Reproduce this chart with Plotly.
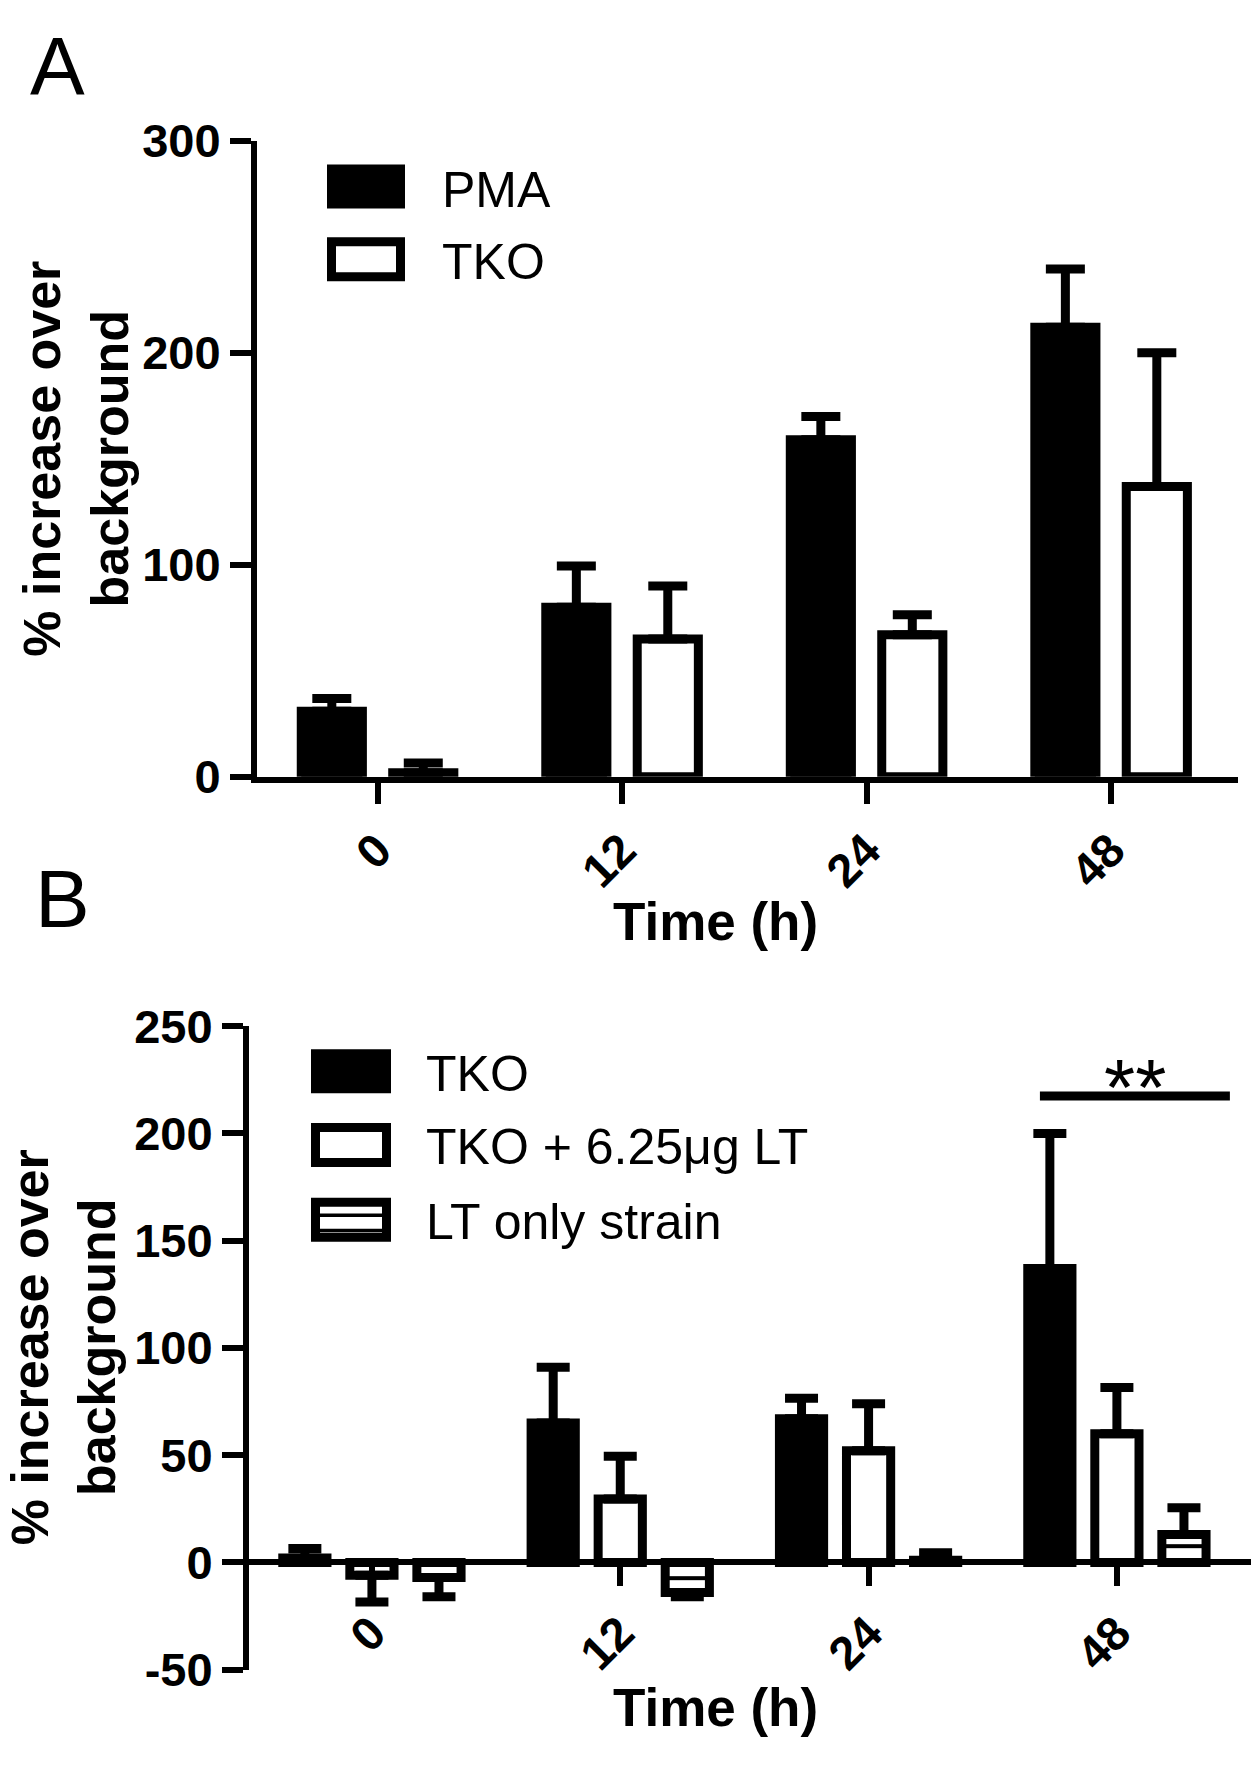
import plotly.graph_objects as go

W, H = 1260, 1771

# ---------------- data ----------------
time_labels = ["0", "12", "24", "48"]

# Panel A
pma = [31, 80, 159, 212]
pma_err = [6, 19.5, 11, 27.5]
tko_a = [2, 65, 67, 137]
tko_a_err = [4.5, 25, 9.5, 63]

# Panel B
tko_b = [2, 65, 67, 137]
tko_b_err = [4.5, 26, 9.5, 63]
tko_lt = [-6, 29.5, 52, 60]
tko_lt_err = [12.5, 20, 22, 21.5]
lt_only = [-7, -14, 1, 13]
lt_only_err = [9, 2, 3.5, 12.5]

yticks_a = [0, 100, 200, 300]
yticks_b = [-50, 0, 50, 100, 150, 200, 250]

sig_y = 217.5
sig_x = [2.69, 3.455]
sig_label = "**"

legend_a = ["PMA", "TKO"]
legend_b = ["TKO", "TKO + 6.25μg LT", "LT only strain"]

# ---------------- helpers ----------------
def fx(px):
    return px / W

def fy(py):
    return 1 - py / H

def up_down(vals, errs):
    plus = [e if v >= 0 else 0 for v, e in zip(vals, errs)]
    minus = [e if v < 0 else 0 for v, e in zip(vals, errs)]
    return plus, minus

FONT = "Liberation Sans, Arial, sans-serif"
LW = 9

fig = go.Figure()

def add_bar(x, y, err, xa, ya, width, offset, fill, cap, pattern=None):
    plus, minus = up_down(y, err)
    marker = dict(color=fill, line=dict(color="black", width=LW))
    if pattern is not None:
        marker["pattern"] = pattern
    fig.add_trace(go.Bar(
        x=x, y=y, xaxis=xa, yaxis=ya, width=width, offset=offset,
        marker=marker, showlegend=False,
        error_y=dict(type="data", array=plus, arrayminus=minus, symmetric=False,
                     color="black", thickness=9, width=cap),
    ))

# Panel A bars
add_bar(time_labels, pma, pma_err, "x", "y", 0.25, -0.312, "black", 19.5)
add_bar(time_labels, tko_a, tko_a_err, "x", "y", 0.25, 0.062, "white", 19.5)

# Panel B bars
add_bar(time_labels, tko_b, tko_b_err, "x2", "y2", 0.178, -0.359, "black", 16.5)
add_bar(time_labels, tko_lt, tko_lt_err, "x2", "y2", 0.178, -0.089, "white", 16.5)
add_bar(time_labels, lt_only, lt_only_err, "x2", "y2", 0.178, 0.181, "white", 16.5,
        pattern=dict(shape="-", fgcolor="black", bgcolor="white", size=16,
                     solidity=0.25, fillmode="overlay", fgopacity=1))

# domains
xa_dom = [fx(257), fx(1238)]
ya_dom = [fy(773), fy(117.3)]
xb_dom = [fx(249), fx(1251)]
yb_dom = [fy(1693.3), fy(1030)]
zero_b = yb_dom[0] + (50 / 300) * (yb_dom[1] - yb_dom[0])

tick_font = dict(family=FONT, size=47, color="black", weight="bold")
axis_common = dict(showline=True, linecolor="black", linewidth=6, ticks="outside",
                   ticklen=21, tickwidth=6, tickcolor="black", showgrid=False,
                   zeroline=False, tickfont=tick_font)

fig.update_layout(
    width=W, height=H, margin=dict(l=0, r=0, t=0, b=0),
    paper_bgcolor="white", plot_bgcolor="white",
    barmode="overlay", showlegend=False,
    font=dict(family=FONT, color="black"),
    xaxis=dict(domain=xa_dom, anchor="y", type="category", range=[-0.493, 3.519],
               tickangle=-45, **axis_common),
    yaxis=dict(domain=ya_dom, anchor="x", range=[0, 300], tickvals=yticks_a,
               ticktext=[str(v) for v in yticks_a], **axis_common),
    xaxis2=dict(domain=xb_dom, anchor="free", position=zero_b, type="category",
                range=[-0.495, 3.54], tickangle=-45, **axis_common),
    yaxis2=dict(domain=yb_dom, anchor="x2", range=[-50, 250], tickvals=yticks_b,
                ticktext=[str(v) for v in yticks_b], **axis_common),
)

shapes = []
annos = []

def rect(x0, y0, x1, y1, fill):
    shapes.append(dict(type="rect", xref="paper", yref="paper",
                       x0=fx(x0), x1=fx(x1), y0=fy(y0), y1=fy(y1),
                       fillcolor=fill, line=dict(color="black", width=LW), layer="above"))

def hline(x0, x1, y, w):
    shapes.append(dict(type="line", xref="paper", yref="paper",
                       x0=fx(x0), x1=fx(x1), y0=fy(y), y1=fy(y),
                       line=dict(color="black", width=w), layer="above"))

def text(px, py, s, size, bold=False, xanchor="left", angle=0, family=FONT):
    annos.append(dict(xref="paper", yref="paper", x=fx(px), y=fy(py),
                      text=("<b>%s</b>" % s) if bold else s, showarrow=False,
                      xanchor=xanchor, yanchor="middle", textangle=angle,
                      font=dict(family=family, size=size, color="black")))

# Legend A
rect(331.5, 146.5, 400.5, 182.5, "black")
rect(331.5, 221.5, 400.5, 257.5, "white")
text(440, 168, legend_a[0], 50)
text(440, 242, legend_a[1], 50)

# Legend B
rect(315.5, 1058.5, 386.5, 1094.5, "black")
rect(315.5, 1134.5, 386.5, 1170.5, "white")
rect(315.5, 1211.5, 386.5, 1247.5, "white")
hline(315.5, 386.5, 1225, 3.5)
hline(315.5, 386.5, 1240.5, 3.5)
text(424, 1079, legend_b[0], 50)
text(424, 1155, legend_b[1], 50)
text(424, 1232, legend_b[2], 50)

# Significance bar
shapes.append(dict(type="line", xref="x2", yref="y2", x0=sig_x[0], x1=sig_x[1],
                   y0=sig_y, y1=sig_y, line=dict(color="black", width=9)))
annos.append(dict(xref="x2", yref="y2", x=sum(sig_x) / 2, y=sig_y, text=sig_label,
                  showarrow=False, xanchor="center", yanchor="middle", yshift=8,
                  font=dict(family=FONT, size=80, color="black")))

# Axis titles
text(715.5, 922.5, "Time (h)", 53, bold=True, xanchor="center")
text(715.5, 1732.5, "Time (h)", 53, bold=True, xanchor="center")
text(76, 445, "% increase over<br>background", 52, bold=True, xanchor="center", angle=-90)
text(64, 1361, "% increase over<br>background", 52, bold=True, xanchor="center", angle=-90)

# Panel labels
text(28, 40, "A", 82)
text(33, 898, "B", 82)

fig.update_layout(shapes=shapes, annotations=annos)

fig.write_html("out.html", config={"displayModeBar": False},
               post_script="document.body.style.margin='0';document.body.style.overflow='hidden';")
